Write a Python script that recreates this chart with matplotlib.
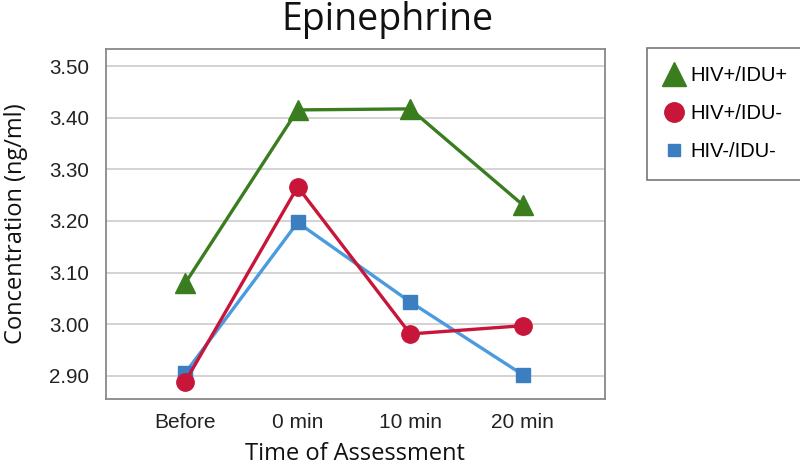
import matplotlib
matplotlib.use("Agg")
import matplotlib.pyplot as plt
from matplotlib.lines import Line2D

categories = ["Before", "0 min", "10 min", "20 min"]
series_names = ["HIV+/IDU+", "HIV+/IDU-", "HIV-/IDU-"]
hiv_pos_idu_pos = [3.079, 3.415, 3.417, 3.231]
hiv_pos_idu_neg = [2.888, 3.266, 2.981, 2.997]
hiv_neg_idu_neg = [2.905, 3.197, 3.043, 2.902]
yticks = [2.90, 3.00, 3.10, 3.20, 3.30, 3.40, 3.50]

fig = plt.figure(figsize=(8, 4.66), dpi=100)
W, H = 800, 466
ax = fig.add_axes([105.7 / W, 1 - 399 / H, (605 - 105.7) / W, (399 - 49) / H])

x = list(range(len(categories)))
styles = [
    dict(color="#3a7d1f", mfc="#3a7d1f", marker="^", ms=14.5, lw=2.4),
    dict(color="#c8163a", mfc="#c8163a", marker="o", ms=12.5, lw=2.4),
    dict(color="#4a9be0", mfc="#3b7fc0", marker="s", ms=9.5, lw=2.4),
]
data = [hiv_pos_idu_pos, hiv_pos_idu_neg, hiv_neg_idu_neg]
for vals, st in zip(data[::-1], styles[::-1]):
    ax.plot(x, vals, color=st["color"], marker=st["marker"], ms=st["ms"],
            mfc=st["mfc"], mec=st["mfc"], lw=st["lw"], zorder=3)

ax.set_xlim(-0.705, 3.73)
ax.set_ylim(2.855, 3.533)
ax.set_yticks(yticks)
ax.set_yticklabels([f"{v:.2f}" for v in yticks], fontsize=14.8, family="Liberation Sans", color="#222222")
ax.set_xticks(x)
ax.set_xticklabels(categories, fontsize=15, family="Liberation Sans", color="#222222")
ax.tick_params(length=0, pad=10)
ax.tick_params(axis="y", pad=12)
ax.grid(axis="y", color="#cccccc", lw=1.2)
ax.set_axisbelow(True)
for s in ax.spines.values():
    s.set_color("#888888")
    s.set_linewidth(1.3)

ax.set_ylabel("Concentration (ng/ml)", fontsize=17, family="Open Sans", color="#111111", labelpad=15)
ax.set_xlabel("Time of Assessment", fontsize=17, family="Open Sans", color="#111111", labelpad=7)
fig.text(387 / W, 1 - 30 / H, "Epinephrine", fontsize=27, family="Open Sans",
         color="#111111", ha="center", va="baseline")

handles = [
    Line2D([], [], ls="none", marker="^", ms=17, color="#3a7d1f"),
    Line2D([], [], ls="none", marker="o", ms=14, color="#c8163a"),
    Line2D([], [], ls="none", marker="s", ms=9, color="#3b7fc0"),
]
leg = fig.legend(handles, series_names, loc="upper left",
                 bbox_to_anchor=(647 / W, 1 - 48 / H),
                 prop={"family": "Liberation Sans", "size": 14.5},
                 frameon=True, fancybox=False, borderpad=0.9, labelspacing=0.95,
                 handlelength=0.9, handletextpad=0.35, borderaxespad=0)
leg.get_frame().set_edgecolor("#555555")
leg.get_frame().set_linewidth(1.2)

fig.savefig("out.png", dpi=100)
